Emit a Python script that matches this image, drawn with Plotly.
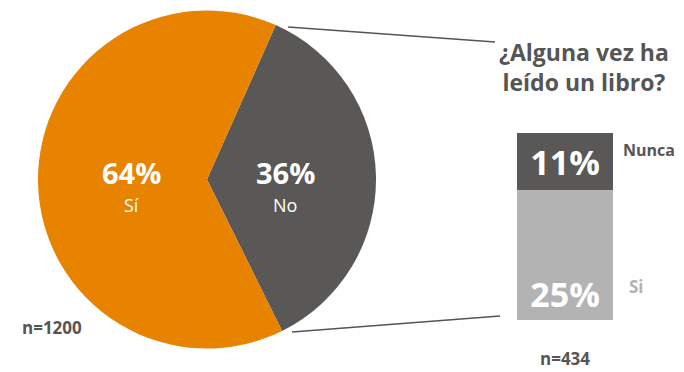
import plotly.graph_objects as go

# browser body has an 8px margin, so the figure is sized to the visible area
OFF = 8
W, H = 684 - OFF, 372 - OFF

pie_labels = ["No", "Sí"]
pie_values = [36, 64]
pie_colors = ["#595857", "#E88300"]

bar_labels = ["Si", "Nunca"]
bar_values = [25, 11]
bar_colors = ["#B3B3B3", "#595857"]
bar_text = ["25%", "11%"]

title_text = "¿Alguna vez ha<br>leído un libro?"
n_pie = "n=1200"
n_bar = "n=434"

FONT = "Open Sans"
GRAY = "#555555"

def px(x):
    return (x - OFF) / W

def py(y):
    return 1 - (y - OFF) / H

fig = go.Figure()

fig.add_trace(go.Pie(
    labels=pie_labels, values=pie_values, sort=False, direction="clockwise",
    rotation=24, marker=dict(colors=pie_colors, line=dict(width=0)),
    textinfo="none", hoverinfo="label+percent", showlegend=False,
    domain=dict(x=[px(38), px(376)], y=[py(349), py(10)]),
))

for lab, val, col, txt, anchor in zip(bar_labels, bar_values, bar_colors, bar_text, ["start", "middle"]):
    fig.add_trace(go.Bar(
        x=[0], y=[val], name=lab, marker=dict(color=col, line=dict(width=0)),
        text=[txt], textposition="inside", insidetextanchor=anchor,
        textfont=dict(family=FONT, size=34, color="white", weight="bold"),
        showlegend=False, width=1,
    ))

fig.update_layout(
    barmode="stack",
    width=W, height=H,
    margin=dict(l=0, r=0, t=0, b=0),
    paper_bgcolor="white", plot_bgcolor="white",
    xaxis=dict(domain=[px(517), px(613)], range=[-0.5, 0.5], visible=False, fixedrange=True),
    yaxis=dict(domain=[py(320), py(133)], range=[0, sum(bar_values)], visible=False, fixedrange=True),
    uniformtext=dict(minsize=10, mode="show"),
)

ann = []
pct = [f"{v}%" for v in pie_values]
for cx, p, lab in [(285, pct[0], pie_labels[0]), (131, pct[1], pie_labels[1])]:
    ann.append(dict(x=px(cx), y=py(194), text=f"<b>{p}</b>", yanchor="bottom",
                    font=dict(family=FONT, size=29, color="white")))
    ann.append(dict(x=px(cx), y=py(191), text=lab, yanchor="top",
                    font=dict(family=FONT, size=18, color="white")))
ann.append(dict(x=px(584), y=py(67), text=f"<b>{title_text}</b>", font=dict(family=FONT, size=23, color=GRAY),
                align="center"))
ann.append(dict(x=px(621), y=py(150), text=f"<b>{bar_labels[1]}</b>", xanchor="left",
                font=dict(family=FONT, size=16, color=GRAY)))
ann.append(dict(x=px(627), y=py(286), text=f"<b>{bar_labels[0]}</b>", xanchor="left",
                font=dict(family=FONT, size=17, color="#B3B3B3")))
ann.append(dict(x=px(52), y=py(327), text=f"<b>{n_pie}</b>", font=dict(family=FONT, size=17, color=GRAY)))
ann.append(dict(x=px(565), y=py(358), text=f"<b>{n_bar}</b>", font=dict(family=FONT, size=17, color=GRAY)))

for a in ann:
    a.update(xref="paper", yref="paper", showarrow=False)
    a.setdefault("xanchor", "center")
    a.setdefault("yanchor", "middle")
fig.update_layout(annotations=ann)

fig.add_shape(type="line", xref="paper", yref="paper", x0=px(288), y0=py(27), x1=px(495), y1=py(42),
              line=dict(color="#555555", width=1.5))
fig.add_shape(type="line", xref="paper", yref="paper", x0=px(292), y0=py(332), x1=px(500), y1=py(316),
              line=dict(color="#555555", width=1.5))

fig.write_html("out.html")
